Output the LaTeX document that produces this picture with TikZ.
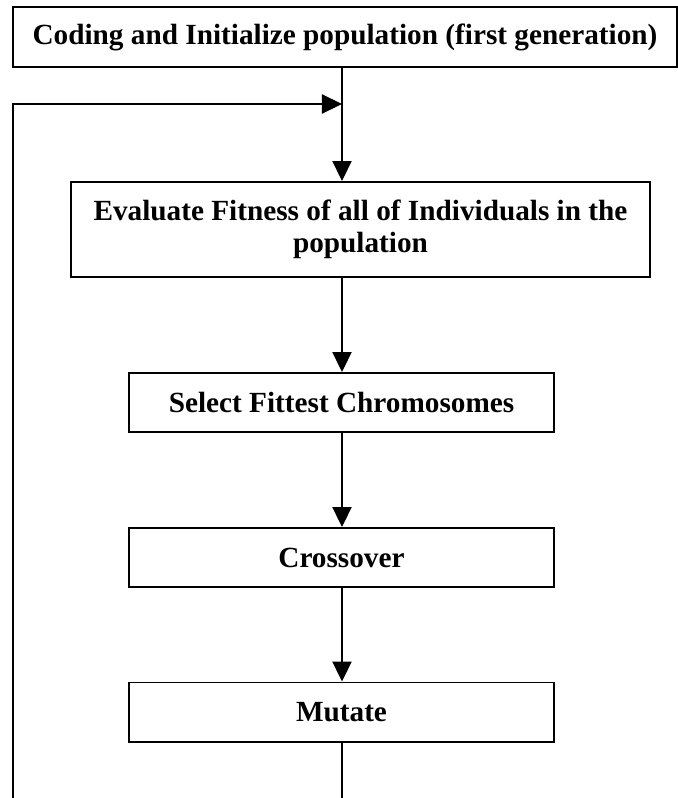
\documentclass[tikz,border=0pt]{standalone}
\usepackage{fontspec}
\setmainfont{Liberation Serif}
\usepackage{tikz}
\usetikzlibrary{positioning,arrows.meta}

\begin{document}
\begin{tikzpicture}[
        x=0.025cm, y=-0.025cm,
        box/.style={rectangle, draw, line width=1.4pt, align=center, inner sep=0pt,
            font=\fontsize{20.8}{23}\selectfont\bfseries},
        wire/.style={draw, line width=1pt},
        arrow/.style={wire, -{Triangle[length=0.5cm, width=0.48cm]}}
    ]
        \useasboundingbox (0,0) rectangle (678,798);

        % Boxes
        \node[box, minimum width=16.6cm, minimum height=1.5cm] (init) at (345,37)
            {Coding and Initialize population (first generation)};
        \node[box, minimum width=14.475cm, minimum height=2.375cm] (eval) at (360.5,229.5)
            {Evaluate Fitness of all of Individuals in the\\population};
        \node[box, minimum width=10.625cm, minimum height=1.475cm] (sel) at (341.5,402.5)
            {Select Fittest Chromosomes};
        \node[box, minimum width=10.625cm, minimum height=1.475cm] (cross) at (341.5,557.5)
            {Crossover};
        \node[box, minimum width=10.625cm, minimum height=1.475cm] (mut) at (341.5,712)
            {Mutate};

        % Loop back
        \coordinate (loop) at (342,104);
        \coordinate (back) at (13,798);
        \coordinate (out) at (342,798);

        % Edges
        \draw[arrow] (init.south -| loop) -- (eval.north -| loop);
        \draw[arrow] (back) |- (loop);
        \draw[arrow] (eval.south -| loop) -- (sel.north -| loop);
        \draw[arrow] (sel.south -| loop) -- (cross.north -| loop);
        \draw[arrow] (cross.south -| loop) -- (mut.north -| loop);
        \draw[wire] (mut.south -| loop) -- (out);
    \end{tikzpicture}
\end{document}
